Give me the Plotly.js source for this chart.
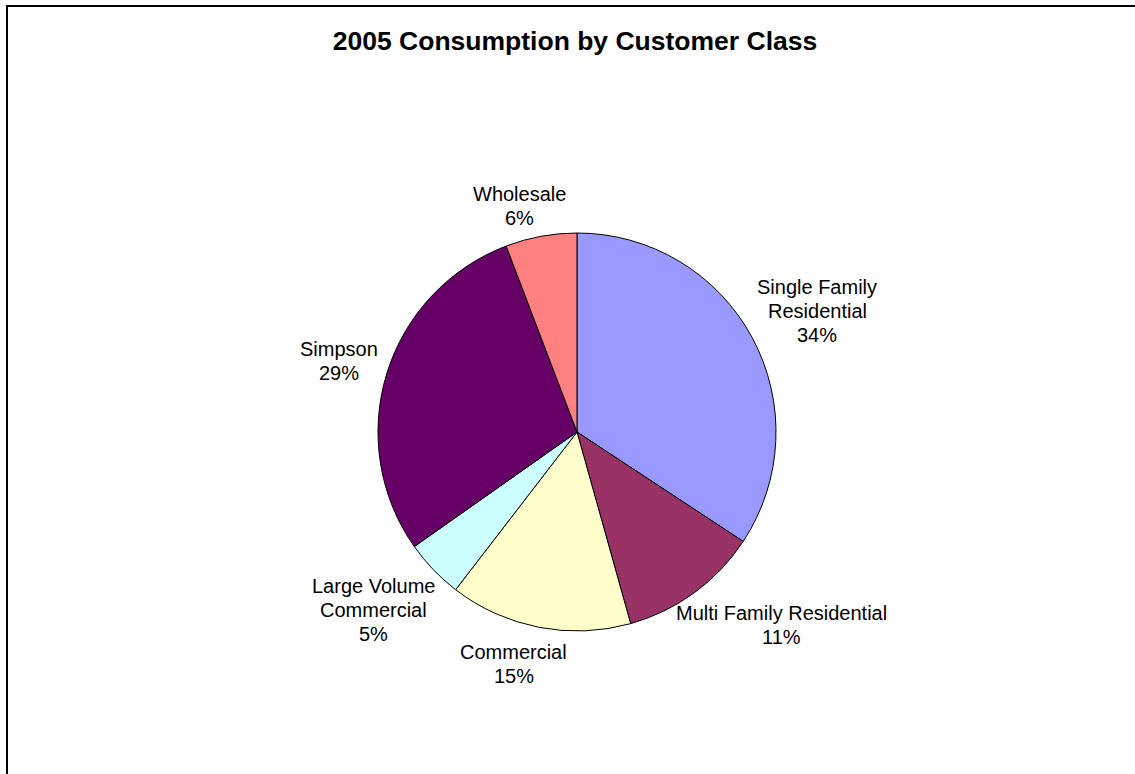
<!DOCTYPE html>
<html>
<head>
<meta charset="utf-8">
<script src="https://cdn.plot.ly/plotly-3.0.1.min.js"></script>
<style>html,body{margin:0;padding:0;background:#fff;}#chart{width:1135px;height:774px;}</style>
</head>
<body>
<div id="chart"></div>
<script>
const categories = ["Single Family Residential", "Multi Family Residential", "Commercial", "Large Volume Commercial", "Simpson", "Wholesale"];
const labelLines = [["Single Family", "Residential"], ["Multi Family Residential"], ["Commercial"], ["Large Volume", "Commercial"], ["Simpson"], ["Wholesale"]];
const values = [34.3, 11.4, 14.8, 4.8, 29.0, 5.8];
const colors = ["#9999FF", "#993366", "#FFFFCC", "#CCFFFF", "#660066", "#FF8080"];

const W = 1135, H = 774;
const FONT = "Liberation Sans, Arial, sans-serif";
const FS = 20, LH = 24, GAP = 10, TEXT_DROP = 3;
// pie domain (paper fractions)
const dom = {x: [378 / W, 776 / W], y: [(H - 631) / H, (H - 233) / H]};
const cx = (dom.x[0] + dom.x[1]) / 2 * W;
const cy = (1 - (dom.y[0] + dom.y[1]) / 2) * H;
const R = Math.min((dom.x[1] - dom.x[0]) * W, (dom.y[1] - dom.y[0]) * H) / 2;

const trace = {
  type: "pie",
  labels: categories,
  values: values,
  sort: false,
  direction: "clockwise",
  rotation: 0,
  marker: {colors: colors, line: {color: "#000", width: 1}},
  textinfo: "none",
  hoverinfo: "label+percent",
  domain: dom,
  showlegend: false
};

// outside labels placed along each slice's mid-angle
const ctx = document.createElement("canvas").getContext("2d");
ctx.font = FS + "px 'Liberation Sans'";
const total = values.reduce((a, b) => a + b, 0);
const annotations = [];
let cum = 0;
values.forEach((v, i) => {
  const mid = (cum + v / 2) / total * 2 * Math.PI;
  cum += v;
  const dx = Math.sin(mid), dy = -Math.cos(mid);
  const lines = labelLines[i].concat([Math.round(v / total * 100) + "%"]);
  const w = Math.max(...lines.map(s => ctx.measureText(s).width));
  const h = lines.length * LH;
  const f = t => Math.sign(t) * Math.sqrt(Math.abs(t));
  const px = cx + (R + GAP) * dx + f(dx) * w / 2;
  const py = cy + (R + GAP) * dy + f(dy) * h / 2 + TEXT_DROP;
  lines.forEach((s, k) => {
    const ly = py + (k - (lines.length - 1) / 2) * LH;
    annotations.push({
      xref: "paper", yref: "paper", x: px / W, y: 1 - ly / H,
      xanchor: "center", yanchor: "middle", showarrow: false,
      text: s, font: {family: FONT, size: FS, color: "#000"}
    });
  });
});

const layout = {
  width: W, height: H,
  margin: {l: 0, r: 0, t: 0, b: 0},
  paper_bgcolor: "#fff",
  title: {
    text: "<b>2005 Consumption by Customer Class</b>",
    font: {family: FONT, size: 26.5, color: "#000"},
    x: 575 / W, xanchor: "center", xref: "paper",
    y: 1 - 41 / H, yanchor: "middle", yref: "paper"
  },
  annotations: annotations,
  shapes: [{
    type: "rect", xref: "paper", yref: "paper",
    x0: 7 / W, x1: 1.02, y0: -0.02, y1: 1 - 6 / H,
    line: {color: "#000", width: 2}, fillcolor: "rgba(0,0,0,0)"
  }]
};

Plotly.newPlot("chart", [trace], layout, {displayModeBar: false, staticPlot: true});
</script>
</body>
</html>
